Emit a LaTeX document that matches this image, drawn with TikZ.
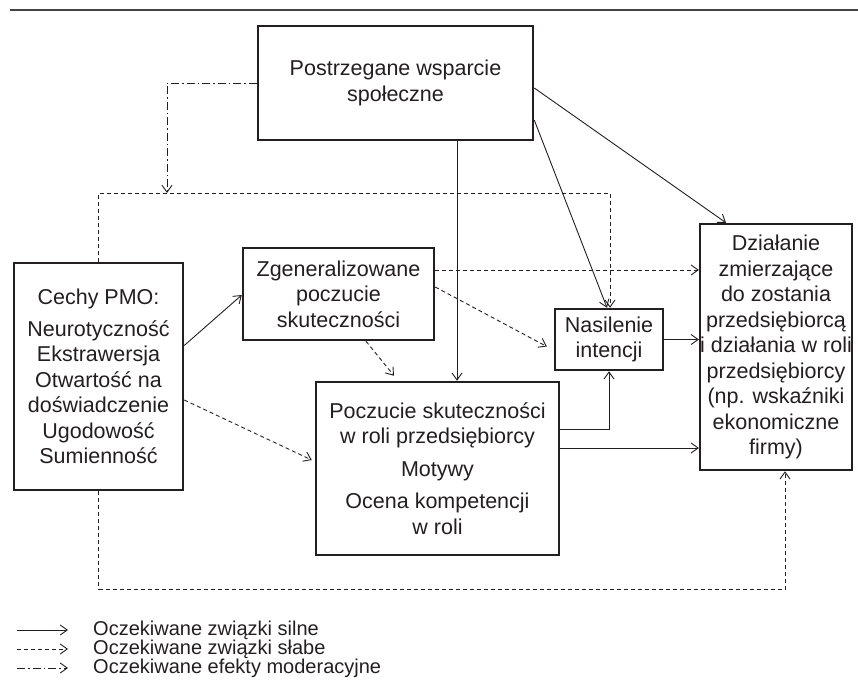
\documentclass[tikz,border=0pt]{standalone}
\usepackage{fontspec}
\setmainfont{Liberation Sans}
\usetikzlibrary{arrows.meta,calc}
\definecolor{ink}{HTML}{231F20}
\definecolor{rule}{HTML}{444444}
\begin{document}
\begin{tikzpicture}[x=1pt,y=-1pt,
  box/.style={draw=ink, text=ink, line width=2.5pt, align=center, inner sep=0pt,
    font=\fontsize{21.5}{25.5}\selectfont},
  tip/.style={-{Straight Barb[length=7pt,width=10pt]}},
  strong/.style={draw=ink, line width=0.9pt, tip},
  weak/.style={draw=ink, line width=0.9pt, tip, dash pattern=on 4pt off 3pt},
  mod/.style={draw=ink, line width=0.9pt, tip, dash pattern=on 8pt off 3pt on 1.5pt off 3pt},
  legtext/.style={text=ink, anchor=west, inner sep=0pt, font=\fontsize{20}{22}\selectfont}
]
\useasboundingbox (0,0) rectangle (858,684);
\draw[rule, line width=1.4pt] (10,10) -- (858,10);

\node[box, minimum width=275pt, minimum height=114pt] (post) at (395.5,83)
  {Postrzegane wsparcie\\społeczne};
\node[box, minimum width=169pt, minimum height=227pt] (cechy) at (98.5,376.5)
  {Cechy PMO:\\[6pt]Neurotyczność\\Ekstrawersja\\Otwartość na\\doświadczenie\\Ugodowość\\Sumienność};
\node[box, minimum width=191pt, minimum height=92pt] (zgen) at (338.5,294)
  {Zgeneralizowane\\poczucie\\skuteczności};
\node[box, minimum width=243pt, minimum height=173pt] (poc) at (437.5,468.5)
  {Poczucie skuteczności\\w roli przedsiębiorcy\\[7pt]Motywy\\[7pt]Ocena kompetencji\\w roli};
\node[box, minimum width=108pt, minimum height=61pt] (nas) at (609,339.5)
  {Nasilenie\\intencji};
\node[box, minimum width=150pt, minimum height=246pt] (dzial) at (776,347)
  {Działanie\\zmierzające\\do zostania\\przedsiębiorcą\\i działania w roli\\przedsiębiorcy\\(np. wskaźniki\\ekonomiczne\\firmy)};

% moderation
\coordinate (modpt) at (167,193);
\draw[mod] (post.west) -| (modpt);
% dashed loop top
\draw[weak] (cechy.north) |- (modpt) -| ([xshift=1pt]nas.north);
% strong arrows from Postrzegane
\draw[strong] ([yshift=-5pt]post.east) -- ([xshift=-50pt]dzial.north);
\draw[strong] ([yshift=-37pt]post.east) -- ([xshift=-2pt]nas.north);
\draw[strong] ([xshift=61.5pt]post.south) -- ([xshift=61.5pt]post.south |- poc.north);
% from Zgeneralizowane
\draw[weak] ([yshift=24pt]zgen.east) -- ([yshift=24pt]zgen.east -| dzial.west);
\draw[weak] ([yshift=7pt]zgen.east) -- ([shift={(-7pt,-7pt)}]nas.west);
\draw[weak] ([xshift=27.5pt]zgen.south) -- ([shift={(-43.5pt,5pt)}]poc.north);
% from Cechy
\draw[strong] ([yshift=31pt]cechy.east) -- ([yshift=-1pt]zgen.west);
\draw[weak] ([yshift=-23.5pt]cechy.east) -- ([shift={(-3pt,8.5pt)}]poc.west);
\draw[weak] (cechy.south) |- ([shift={(9pt,-118pt)}]dzial.south) -- ([xshift=9pt]dzial.south);
% from Poczucie
\draw[strong] ([yshift=39.5pt]poc.east) -| (nas.south);
\draw[strong] ([yshift=20.5pt]poc.east) -- ([yshift=20.5pt]poc.east -| dzial.west);
% from Nasilenie
\draw[strong] (nas.east) -- (nas.east -| dzial.west);

% legend
\coordinate (l1a) at (17,630); \coordinate (l1b) at (68,630);
\coordinate (l2a) at (17,649); \coordinate (l2b) at (68,649);
\coordinate (l3a) at (17,668); \coordinate (l3b) at (68,668);
\draw[strong] (l1a) -- (l1b);
\draw[weak] (l2a) -- (l2b);
\draw[mod] (l3a) -- (l3b);
\node[legtext] (t1) at (93,630) {Oczekiwane związki silne};
\node[legtext] (t2) at (93,649) {Oczekiwane związki słabe};
\node[legtext] (t3) at (93,668) {Oczekiwane efekty moderacyjne};
\end{tikzpicture}
\end{document}
